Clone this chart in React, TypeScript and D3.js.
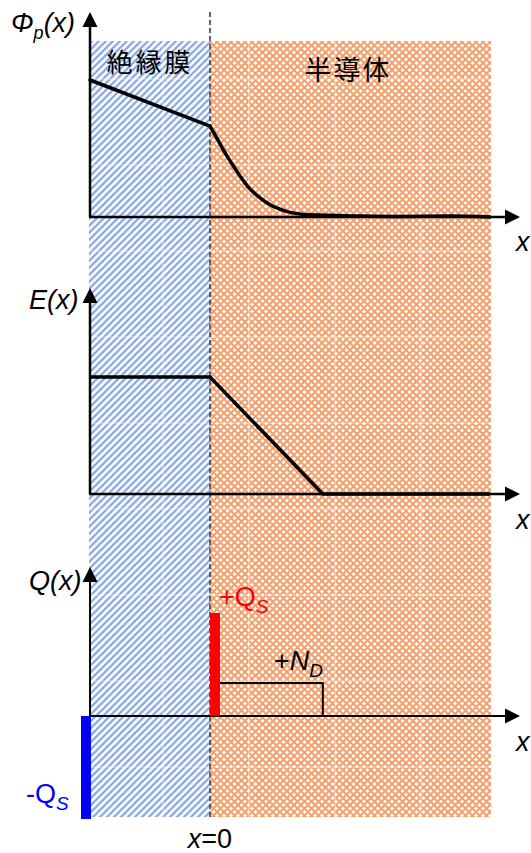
import * as d3 from 'd3';

const W = 531;
const H = 853;

// depth: insulator -1..0, semiconductor 0..end
const insulatorRange = [-1, 0];
const semiconductorRange = [0, 2.342];
const depletionEdge = 0.94;

// potential Φp(x)
const phiX = [-1, 0, 0.042, 0.083, 0.125, 0.167, 0.208, 0.25, 0.333, 0.417, 0.5, 0.583, 0.667, 0.833, 1.25, 1.583, 2.0, 2.333];
const phiY = [1, 0.664, 0.6, 0.535, 0.47, 0.41, 0.355, 0.3, 0.205, 0.14, 0.09, 0.058, 0.034, 0.016, 0.007, 0.004, 0.007, 0.0];

// electric field E(x)
const fieldX = [-1, 0, depletionEdge, 2.333];
const fieldY = [1, 1, 0, 0];

// charge Q(x)
const surfaceCharge = 1;
const donorCharge = 0.32;

const FONT = '"Liberation Sans", Arial, sans-serif';
const CJK = '"Noto Sans CJK JP", sans-serif';

const x = d3.scaleLinear().domain([-1, 2.5]).range([90, 510]);
const yPhi = d3.scaleLinear().domain([0, 1]).range([217, 80]);
const yE = d3.scaleLinear().domain([0, 1]).range([494, 377]);
const yQ = d3.scaleLinear().domain([0, 1]).range([716, 613]);

const AX_END = 520;
const TOP = 41;
const BOTTOM = 817;

function Axes({ y0, top, thin }: { y0: number; top: number; thin?: boolean }) {
  const sw = thin ? 2 : 2.5;
  const x0 = x(-1);
  return (
    <g>
      <line x1={x0} y1={y0} x2={x0} y2={top + 12} stroke="#000" strokeWidth={sw} />
      <polygon points={`${x0},${top} ${x0 - 7.5},${top + 15} ${x0 + 7.5},${top + 15}`} fill="#000" />
      <line x1={x0 - 1} y1={y0} x2={AX_END - 12} y2={y0} stroke="#000" strokeWidth={sw} />
      <polygon points={`${AX_END},${y0} ${AX_END - 15},${y0 - 7.5} ${AX_END - 15},${y0 + 7.5}`} fill="#000" />
    </g>
  );
}

export default function App() {
  const phiPts = phiX.map((v, i) => [x(v), yPhi(phiY[i])] as [number, number]);
  const phiInsul = d3.line()(phiPts.slice(0, 2));
  const phiSemi = d3.line().curve(d3.curveMonotoneX)(phiPts.slice(1));
  const ePath = d3.line()(fieldX.map((v, i) => [x(v), yE(fieldY[i])] as [number, number]));

  const seamsX = d3.range(163, 492, 86);
  const seamsY = d3.range(79, 817, 86);

  const xi0 = x(insulatorRange[0]);
  const xi1 = x(insulatorRange[1]);
  const xs1 = x(semiconductorRange[1]);

  return (
    <svg width={W} height={H} style={{ position: 'absolute', left: 0, top: 0, background: '#fff' }}>
      <defs>
        <pattern id="hatch" width="7" height="7" patternUnits="userSpaceOnUse">
          <rect width="7" height="7" fill="#f4f7fd" />
          <path d="M-1,8 L8,-1 M-4,4 L4,-4 M3,11 L11,3" stroke="#88a8e0" strokeWidth="2" />
        </pattern>
        <pattern id="lattice" width="7" height="7" patternUnits="userSpaceOnUse">
          <rect width="7" height="7" fill="#fff" />
          <path d="M0,0 L7,7 M7,0 L0,7" stroke="#f5a06c" strokeWidth="2" />
          <circle cx="3.5" cy="3.5" r="0" fill="#fff" />
        </pattern>
      </defs>

      {/* regions */}
      <rect x={xi0 - 1} y={TOP} width={xi1 - xi0 + 1} height={BOTTOM - TOP} fill="url(#hatch)" />
      <rect x={xi1} y={TOP} width={xs1 - xi1} height={BOTTOM - TOP} fill="url(#lattice)" />
      <g stroke="#fff" strokeOpacity={0.55} strokeWidth={1}>
        {seamsX.map((sx) => (
          <line key={'sx' + sx} x1={sx} y1={TOP} x2={sx} y2={BOTTOM} />
        ))}
        {seamsY.map((sy) => (
          <line key={'sy' + sy} x1={xi0 - 1} y1={sy} x2={xs1} y2={sy} />
        ))}
      </g>

      {/* interface */}
      <line x1={xi1} y1={12} x2={xi1} y2={BOTTOM} stroke="#404040" strokeWidth={1.6} strokeDasharray="5,3" />

      <text x={150} y={72} textAnchor="middle" fontFamily={CJK} fontSize={26} letterSpacing={3} fill="#000">絶縁膜</text>
      <text x={348} y={80} textAnchor="middle" fontFamily={CJK} fontSize={27} letterSpacing={2} fill="#000">半導体</text>

      {/* Φp(x) */}
      <Axes y0={yPhi(0)} top={12} />
      <path d={phiInsul ?? ''} fill="none" stroke="#000" strokeWidth={3.5} strokeLinecap="round" />
      <path d={phiSemi ?? ''} fill="none" stroke="#000" strokeWidth={3.5} strokeLinecap="round" />
      <text x={11} y={32} fontFamily={FONT} fontStyle="italic" fontSize={27}>
        Φ<tspan fontSize={18} dy={7}>p</tspan><tspan dy={-7}>(x)</tspan>
      </text>
      <text x={516} y={251} fontFamily={FONT} fontStyle="italic" fontSize={27}>x</text>

      {/* E(x) */}
      <Axes y0={yE(0)} top={288} />
      <path d={ePath ?? ''} fill="none" stroke="#000" strokeWidth={3.5} />
      <text x={29} y={309} fontFamily={FONT} fontStyle="italic" fontSize={27}>E(x)</text>
      <text x={516} y={529} fontFamily={FONT} fontStyle="italic" fontSize={27}>x</text>

      {/* Q(x) */}
      <rect x={x(0) + 9} y={yQ(donorCharge)} width={x(depletionEdge) - x(0) - 9} height={yQ(0) - yQ(donorCharge)} fill="none" stroke="#000" strokeWidth={2} />
      <Axes y0={yQ(0)} top={567} thin />
      <rect x={x(0)} y={yQ(surfaceCharge)} width={10} height={yQ(0) - yQ(surfaceCharge)} fill="#ff0000" />
      <rect x={x(-1) - 9} y={yQ(0)} width={10} height={yQ(0) - yQ(surfaceCharge)} fill="#0000ff" />
      <text x={29} y={590} fontFamily={FONT} fontStyle="italic" fontSize={27}>Q(x)</text>
      <text x={516} y={751} fontFamily={FONT} fontStyle="italic" fontSize={27}>x</text>

      <text x={219} y={606} fontFamily={FONT} fontSize={27} fill="#ff0000">
        +Q<tspan fontStyle="italic" fontSize={19} dy={7}>S</tspan>
      </text>
      <text x={274} y={670} fontFamily={FONT} fontSize={27} fill="#000">
        +<tspan fontStyle="italic">N</tspan><tspan fontStyle="italic" fontSize={19} dy={7}>D</tspan>
      </text>
      <text x={26} y={803} fontFamily={FONT} fontSize={27} fill="#0000ff">
        -Q<tspan fontStyle="italic" fontSize={19} dy={7}>S</tspan>
      </text>
      <text x={210} y={848} textAnchor="middle" fontFamily={FONT} fontSize={27} fill="#000">
        <tspan fontStyle="italic">x</tspan>=0
      </text>
    </svg>
  );
}
